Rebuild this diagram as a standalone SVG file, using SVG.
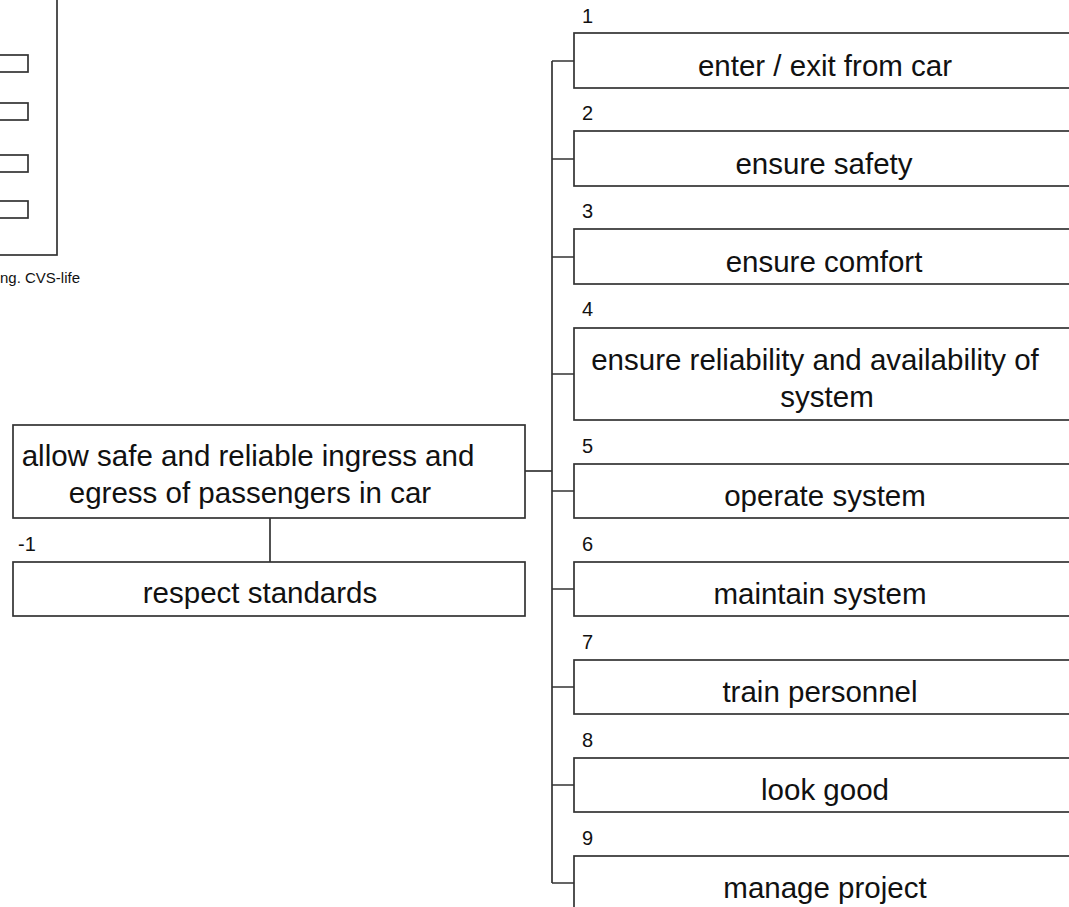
<svg xmlns="http://www.w3.org/2000/svg" width="1069" height="907" viewBox="0 0 1069 907">
<style>
.box{fill:#fff;stroke:#333;stroke-width:1.7}
.t{font-family:"Liberation Sans",Arial,sans-serif;font-size:29.5px;fill:#111;text-anchor:middle}
.n{font-family:"Liberation Sans",Arial,sans-serif;font-size:20px;fill:#111}
.c{font-family:"Liberation Sans",Arial,sans-serif;font-size:15px;fill:#111;text-anchor:end}
.ln{fill:none;stroke:#333;stroke-width:1.7}
</style>
<rect width="1069" height="907" fill="#fff"/>
<g id="fragment">
<rect class="box" x="-100" y="-100" width="157" height="355"/>
<rect class="box" x="-50" y="55" width="78" height="17"/>
<rect class="box" x="-50" y="103" width="78" height="17"/>
<rect class="box" x="-50" y="155" width="78" height="17"/>
<rect class="box" x="-50" y="201" width="78" height="17"/>
<text class="c" x="80" y="283">ng. CVS-life</text>
</g>
<g id="connectors">
<path class="ln" d="M552 61V883"/>
<path class="ln" d="M525 471H552"/>
<path class="ln" d="M552 61H574M552 159H574M552 257H574M552 374H574M552 491H574M552 589H574M552 687H574M552 785H574M552 883H574"/>
<path class="ln" d="M270 518V562"/>
</g>
<g id="main">
<rect class="box" x="13" y="425" width="512" height="93"/>
<text class="t" x="248" y="466">allow safe and reliable ingress and</text>
<text class="t" x="250" y="503">egress of passengers in car</text>
</g>
<g id="n-1">
<text class="n" x="18" y="551">-1</text>
<rect class="box" x="13" y="562" width="512" height="54"/>
<text class="t" x="260" y="603">respect standards</text>
</g>
<g id="n1">
<text class="n" x="582" y="23">1</text>
<rect class="box" x="574" y="33" width="520" height="55"/>
<text class="t" x="825" y="76">enter / exit from car</text>
</g>
<g id="n2">
<text class="n" x="582" y="120">2</text>
<rect class="box" x="574" y="131" width="520" height="55"/>
<text class="t" x="824" y="174">ensure safety</text>
</g>
<g id="n3">
<text class="n" x="582" y="218">3</text>
<rect class="box" x="574" y="229" width="520" height="55"/>
<text class="t" x="824" y="272">ensure comfort</text>
</g>
<g id="n4">
<text class="n" x="582" y="316">4</text>
<rect class="box" x="574" y="328" width="520" height="92"/>
<text class="t" x="815" y="370">ensure reliability and availability of</text>
<text class="t" x="827" y="407">system</text>
</g>
<g id="n5">
<text class="n" x="582" y="453">5</text>
<rect class="box" x="574" y="464" width="520" height="54"/>
<text class="t" x="825" y="506">operate system</text>
</g>
<g id="n6">
<text class="n" x="582" y="551">6</text>
<rect class="box" x="574" y="562" width="520" height="54"/>
<text class="t" x="820" y="604">maintain system</text>
</g>
<g id="n7">
<text class="n" x="582" y="649">7</text>
<rect class="box" x="574" y="660" width="520" height="54"/>
<text class="t" x="820" y="702">train personnel</text>
</g>
<g id="n8">
<text class="n" x="582" y="747">8</text>
<rect class="box" x="574" y="758" width="520" height="54"/>
<text class="t" x="825" y="800">look good</text>
</g>
<g id="n9">
<text class="n" x="582" y="845">9</text>
<rect class="box" x="574" y="856" width="520" height="55"/>
<text class="t" x="825" y="898">manage project</text>
</g>
</svg>
